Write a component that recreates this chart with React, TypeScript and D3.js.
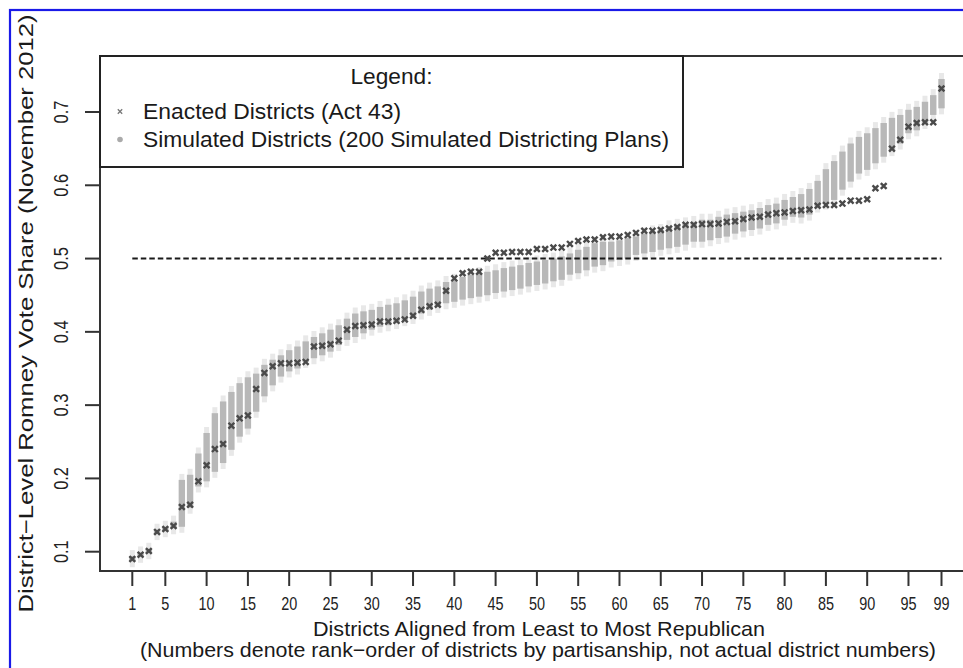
import React from 'react';
import * as d3 from 'd3';

const enacted = [
  0.090, 0.096, 0.101, 0.127, 0.131, 0.135, 0.161, 0.164, 0.196, 0.218,
  0.240, 0.247, 0.272, 0.282, 0.286, 0.322, 0.344, 0.353, 0.357, 0.357,
  0.358, 0.359, 0.380, 0.381, 0.383, 0.388, 0.403, 0.408, 0.409, 0.410,
  0.414, 0.414, 0.415, 0.417, 0.422, 0.430, 0.435, 0.437, 0.456, 0.473,
  0.480, 0.482, 0.482, 0.500, 0.508, 0.508, 0.509, 0.509, 0.509, 0.513,
  0.513, 0.515, 0.515, 0.520, 0.524, 0.526, 0.526, 0.529, 0.530, 0.530,
  0.532, 0.535, 0.538, 0.538, 0.539, 0.541, 0.543, 0.546, 0.546, 0.547,
  0.547, 0.548, 0.550, 0.551, 0.554, 0.556, 0.557, 0.560, 0.562, 0.563,
  0.565, 0.566, 0.567, 0.572, 0.573, 0.573, 0.575, 0.579, 0.579, 0.581,
  0.596, 0.599, 0.650, 0.662, 0.680, 0.685, 0.686, 0.686, 0.732,
];

const simLow = [
  0.087, 0.093, 0.098, 0.124, 0.128, 0.132, 0.134, 0.160, 0.189, 0.196,
  0.209, 0.221, 0.239, 0.257, 0.268, 0.291, 0.312, 0.327, 0.339, 0.346,
  0.350, 0.359, 0.364, 0.368, 0.373, 0.382, 0.389, 0.393, 0.398, 0.403,
  0.407, 0.409, 0.412, 0.416, 0.419, 0.425, 0.430, 0.434, 0.439, 0.441,
  0.444, 0.446, 0.448, 0.450, 0.453, 0.455, 0.457, 0.459, 0.462, 0.464,
  0.466, 0.469, 0.471, 0.478, 0.480, 0.484, 0.489, 0.491, 0.496, 0.498,
  0.500, 0.505, 0.507, 0.509, 0.512, 0.514, 0.516, 0.519, 0.523, 0.523,
  0.525, 0.528, 0.530, 0.534, 0.537, 0.539, 0.541, 0.546, 0.548, 0.553,
  0.557, 0.556, 0.560, 0.571, 0.575, 0.580, 0.594, 0.605, 0.616, 0.621,
  0.630, 0.639, 0.648, 0.657, 0.671, 0.675, 0.685, 0.696, 0.705,
];

const simHigh = [
  0.094, 0.099, 0.104, 0.130, 0.134, 0.141, 0.198, 0.205, 0.234, 0.262,
  0.289, 0.305, 0.318, 0.330, 0.338, 0.343, 0.355, 0.362, 0.368, 0.375,
  0.380, 0.387, 0.393, 0.398, 0.403, 0.409, 0.418, 0.425, 0.428, 0.430,
  0.434, 0.437, 0.439, 0.443, 0.448, 0.455, 0.459, 0.462, 0.468, 0.471,
  0.475, 0.478, 0.480, 0.482, 0.484, 0.487, 0.489, 0.491, 0.494, 0.496,
  0.498, 0.500, 0.503, 0.507, 0.512, 0.516, 0.521, 0.523, 0.523, 0.525,
  0.528, 0.530, 0.534, 0.537, 0.539, 0.544, 0.546, 0.548, 0.550, 0.553,
  0.553, 0.557, 0.560, 0.562, 0.564, 0.566, 0.569, 0.573, 0.575, 0.580,
  0.584, 0.588, 0.595, 0.606, 0.622, 0.633, 0.646, 0.657, 0.666, 0.671,
  0.678, 0.685, 0.692, 0.696, 0.703, 0.707, 0.714, 0.723, 0.745,
];

const xTicks = [1, 5, 10, 15, 20, 25, 30, 35, 40, 45, 50, 55, 60, 65, 70, 75, 80, 85, 90, 95, 99];
const yTicks = [0.1, 0.2, 0.3, 0.4, 0.5, 0.6, 0.7];
const threshold = 0.5;

const legendTitle = 'Legend:';
const legendEnacted = 'Enacted Districts (Act 43)';
const legendSimulated = 'Simulated Districts (200 Simulated Districting Plans)';
const xTitle = 'Districts Aligned from Least to Most Republican';
const xSubtitle = '(Numbers denote rank\u2212order of districts by partisanship, not actual district numbers)';
const yTitle = 'District\u2212Level Romney Vote Share (November 2012)';

const FONT = '"Liberation Sans", Arial, Helvetica, sans-serif';

export default function App() {
  const W = 963;
  const H = 668;
  const x = d3.scaleLinear().domain([1, 99]).range([132.3, 941.5]);
  const y = d3.scaleLinear().domain([0.1, 0.7]).range([551.7, 112]);

  const plotLeft = 100;
  const plotTop = 56;
  const plotBottom = 571;
  const plotRight = 974;
  const legendRight = 683;

  const cross = (cx: number, cy: number, s: number) =>
    `M${cx - s},${cy - s}L${cx + s},${cy + s}M${cx - s},${cy + s}L${cx + s},${cy - s}`;

  const districts = enacted.map((v, i) => ({ d: i + 1, v, lo: simLow[i], hi: simHigh[i] }));

  return (
    <div style={{ position: 'absolute', left: 0, top: 0, width: W, height: H, background: '#fff', overflow: 'hidden' }}>
      <svg width={W} height={H} style={{ display: 'block', fontFamily: FONT }}>
        <rect x={0} y={0} width={W} height={H} fill="#fff" />
        {/* blue frame */}
        <rect x={10} y={10} width={1000} height={700} fill="none" stroke="#1a1ae8" strokeWidth={2.2} />

        {/* simulated distributions */}
        <g>
          {districts.map((p) => {
            const cx = x(p.d);
            const top = y(p.hi);
            const bot = y(p.lo);
            return (
              <g key={'s' + p.d}>
                <rect x={cx - 2.5} y={top - 6} width={5} height={bot - top + 12} fill="#e8e8e8" />
                <rect x={cx - 3.2} y={top} width={6.4} height={Math.max(2, bot - top)} fill="#b8b8b8" />
              </g>
            );
          })}
        </g>

        {/* 0.5 reference line */}
        <line
          x1={x(1)}
          x2={x(99)}
          y1={y(threshold)}
          y2={y(threshold)}
          stroke="#1a1a1a"
          strokeWidth={2}
          strokeDasharray="5.5,3"
        />

        {/* enacted districts */}
        <g>
          {districts.map((p) => (
            <path key={'e' + p.d} d={cross(x(p.d), y(p.v), 2.9)} stroke="#4a4a4a" strokeWidth={2.4} fill="none" />
          ))}
        </g>

        {/* plot box */}
        <path
          d={`M${plotRight},${plotTop}L${plotLeft},${plotTop}L${plotLeft},${plotBottom}L${plotRight},${plotBottom}`}
          fill="none"
          stroke="#333"
          strokeWidth={2}
        />

        {/* x axis ticks */}
        <g>
          {xTicks.map((t) => (
            <g key={'xt' + t}>
              <line x1={x(t)} x2={x(t)} y1={plotBottom} y2={586} stroke="#333" strokeWidth={2} />
              <text
                transform={`translate(${x(t)},610) scale(0.78,1)`}
                textAnchor="middle"
                fontSize={18.5}
                fill="#222"
              >
                {String(t)}
              </text>
            </g>
          ))}
        </g>

        {/* y axis ticks */}
        <g>
          {yTicks.map((t) => (
            <g key={'yt' + t}>
              <line x1={85} x2={plotLeft} y1={y(t)} y2={y(t)} stroke="#333" strokeWidth={2} />
              <text
                transform={`translate(67.5,${y(t)}) rotate(-90) scale(0.8,1)`}
                textAnchor="middle"
                fontSize={20.5}
                fill="#222"
              >
                {t.toFixed(1)}
              </text>
            </g>
          ))}
        </g>

        {/* axis titles */}
        <text
          x={539}
          y={636}
          textAnchor="middle"
          fontSize={21}
          fill="#1a1a1a"
          textLength={452}
          lengthAdjust="spacingAndGlyphs"
        >
          {xTitle}
        </text>
        <text
          x={538}
          y={657}
          textAnchor="middle"
          fontSize={20.5}
          fill="#1a1a1a"
          textLength={796}
          lengthAdjust="spacingAndGlyphs"
        >
          {xSubtitle}
        </text>
        <text
          transform={`translate(33,313.5) rotate(-90)`}
          textAnchor="middle"
          fontSize={21}
          fill="#1a1a1a"
          textLength={598}
          lengthAdjust="spacingAndGlyphs"
        >
          {yTitle}
        </text>

        {/* legend */}
        <g>
          <rect x={plotLeft} y={plotTop} width={legendRight - plotLeft} height={111} fill="#fff" stroke="#222" strokeWidth={2} />
          <text x={(plotLeft + legendRight) / 2} y={84} textAnchor="middle" fontSize={21.5} fill="#1a1a1a" textLength={82} lengthAdjust="spacingAndGlyphs">
            {legendTitle}
          </text>
          <path d={cross(120, 111.5, 2.2)} stroke="#777" strokeWidth={1.3} fill="none" />
          <text x={143} y={119} fontSize={21.5} fill="#1a1a1a" textLength={258} lengthAdjust="spacingAndGlyphs">
            {legendEnacted}
          </text>
          <circle cx={120} cy={139.5} r={2.8} fill="#aaa" />
          <text x={143} y={147} fontSize={21.5} fill="#1a1a1a" textLength={526} lengthAdjust="spacingAndGlyphs">
            {legendSimulated}
          </text>
        </g>
      </svg>
    </div>
  );
}
